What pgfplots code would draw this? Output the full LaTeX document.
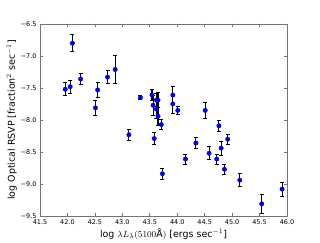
\documentclass[border=0pt]{standalone}
\usepackage{pgfplots}
\pgfplotsset{compat=1.18}
\usepackage{fontspec}
\setmainfont{DejaVu Sans}
\begin{document}
\begin{tikzpicture}[x=1bp,y=1bp]
\begin{axis}[
  scale only axis,
  width=247bp, height=192bp,
  xmin=41.5, xmax=46.0, ymin=-9.5, ymax=-6.5,
  xtick={41.5,42.0,42.5,43.0,43.5,44.0,44.5,45.0,45.5,46.0},
  xticklabels={41.5,42.0,42.5,43.0,43.5,44.0,44.5,45.0,45.5,46.0},
  ytick={-9.5,-9.0,-8.5,-8.0,-7.5,-7.0,-6.5},
  yticklabels={−9.5,−9.0,−8.5,−8.0,−7.5,−7.0,−6.5},
  tick align=inside, tick pos=both,
  major tick length=3bp,
  axis line style={black!55, line width=0.8bp},
  every tick/.style={black!55, line width=0.6bp},
  ticklabel style={font=\fontsize{6.5}{7}\selectfont},
  label style={font=\fontsize{9.5}{11}\selectfont},
  xlabel={log $\lambda L_\lambda(5100\mathrm{\AA})$ [ergs sec$^{-1}$]},
  ylabel={log Optical RSVP [fraction$^2$ sec$^{-1}$]},
  xlabel style={yshift=3bp},
  ylabel style={yshift=-3bp},
]
\addplot+[only marks, mark=*, mark size=2.2bp,
  mark options={fill=blue, draw=blue!70!black},
  error bars/.cd, y dir=both, y explicit,
  error bar style={black, line width=1.1bp},
  error mark options={black, line width=0.8bp, mark size=2bp, rotate=90}]
  table[x=x, y=y, y error=e] {
x y e
41.96 -7.52 0.10
42.05 -7.48 0.10
42.09 -6.80 0.13
42.24 -7.36 0.09
42.51 -7.81 0.12
42.55 -7.53 0.12
42.73 -7.33 0.10
42.87 -7.21 0.22
43.12 -8.23 0.085
43.33 -7.65 0.03
43.54 -7.61 0.09
43.56 -7.77 0.16
43.58 -8.29 0.09
43.62 -7.69 0.10
43.62 -7.83 0.15
43.65 -7.69 0.12
43.65 -7.94 0.14
43.71 -8.07 0.08
43.73 -8.84 0.09
43.92 -7.61 0.14
43.92 -7.75 0.14
44.01 -7.85 0.07
44.15 -8.61 0.08
44.34 -8.36 0.09
44.51 -7.85 0.12
44.58 -8.52 0.10
44.72 -8.61 0.08
44.76 -8.09 0.09
44.80 -8.44 0.11
44.86 -8.77 0.08
44.92 -8.30 0.08
45.14 -8.94 0.10
45.54 -9.31 0.15
45.91 -9.08 0.11
};
\path (rel axis cs:0,0) ++(-40bp,-24bp) coordinate (bbsw);
\path (rel axis cs:1,1) ++(33bp,24bp) coordinate (bbne);
\end{axis}
\path (bbsw) rectangle (bbne);
\end{tikzpicture}
\end{document}
